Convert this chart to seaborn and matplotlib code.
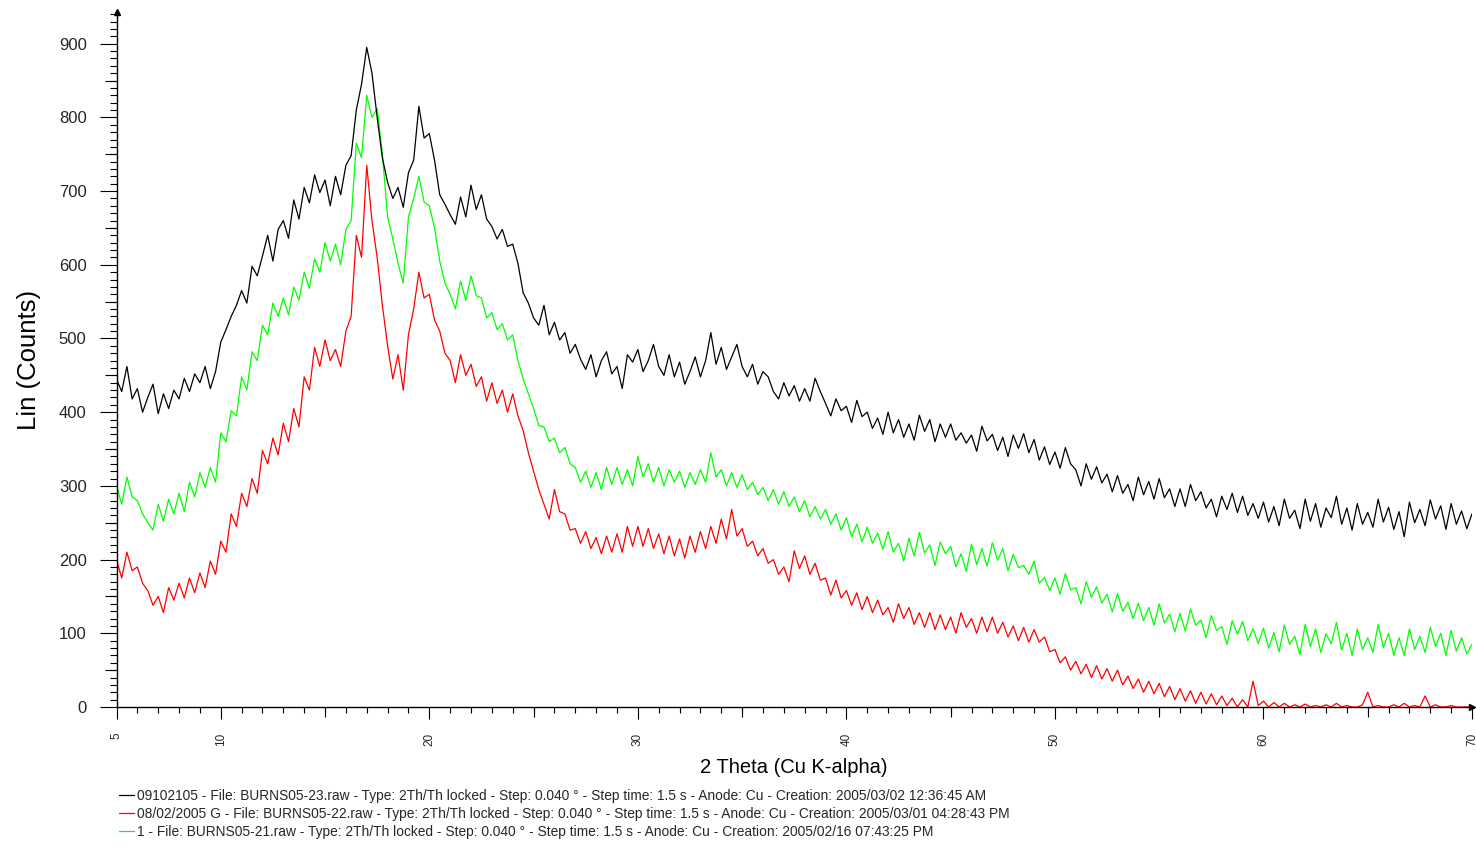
import numpy as np
import pandas as pd
import matplotlib
matplotlib.use("Agg")
import matplotlib.pyplot as plt
from matplotlib.ticker import MultipleLocator, FixedLocator
import seaborn as sns

# ---------------- data (0.25 deg sampling) ----------------
theta_start, theta_end, theta_step = 5.0, 70.0, 0.25

black_counts = [
    445, 428, 462, 418,  432, 400, 420, 438,  398, 425, 405, 430,  418, 446, 428, 452,
    440, 462, 432, 455,  495, 512, 530, 545,  565, 548, 598, 585,  612, 640, 605, 648,
    660, 636, 688, 662,  705, 684, 722, 698,  715, 680, 720, 695,  735, 748, 810, 845,
    895, 860, 800, 745,  712, 690, 705, 678,  725, 742, 815, 772,  778, 742, 695, 682,
    668, 655, 692, 665,  708, 675, 695, 662,  652, 635, 648, 625,  628, 602, 562, 548,
    528, 518, 545, 505,  522, 498, 508, 480,  492, 472, 458, 478,  448, 470, 482, 452,
    462, 432, 478, 468,  485, 455, 470, 492,  462, 450, 478, 448,  468, 438, 455, 475,
    448, 470, 508, 465,  488, 458, 475, 492,  462, 448, 465, 438,  455, 448, 428, 418,
    440, 422, 436, 415,  432, 415, 446, 428,  412, 395, 418, 402,  408, 386, 416, 394,
    400, 378, 392, 370,  400, 372, 390, 366,  384, 362, 396, 374,  390, 360, 384, 366,
    384, 362, 372, 358,  369, 347, 381, 361,  370, 348, 366, 340,  369, 351, 371, 345,
    363, 335, 353, 329,  346, 324, 352, 330,  322, 300, 330, 309,  326, 304, 316, 292,
    314, 290, 302, 280,  312, 288, 306, 282,  310, 284, 296, 272,  296, 272, 302, 280,
    292, 270, 282, 258,  286, 268, 290, 264,  286, 260, 276, 256,  278, 251, 272, 246,
    282, 256, 267, 242,  282, 252, 276, 244,  270, 257, 286, 248,  270, 240, 276, 248,
    264, 244, 282, 251,  271, 241, 265, 231,  278, 250, 268, 246,  281, 255, 273, 241,
    276, 248, 266, 242,  262,
]

red_counts = [
    200, 175, 210, 185,  190, 168, 158, 138,  150, 128, 162, 145,  168, 148, 175, 155,
    182, 162, 198, 180,  225, 210, 262, 245,  290, 272, 310, 290,  348, 330, 365, 342,
    385, 360, 405, 380,  448, 430, 488, 462,  498, 470, 485, 462,  510, 530, 640, 610,
    735, 660, 610, 545,  490, 445, 478, 430,  505, 540, 590, 555,  560, 525, 510, 480,
    470, 440, 478, 450,  465, 435, 448, 415,  440, 412, 430, 400,  425, 395, 375, 345,
    320, 295, 275, 255,  295, 265, 262, 240,  242, 222, 238, 215,  230, 208, 232, 210,
    235, 210, 245, 218,  245, 218, 242, 215,  235, 208, 232, 205,  228, 202, 232, 210,
    238, 215, 245, 222,  255, 228, 268, 232,  242, 218, 225, 205,  215, 195, 200, 180,
    190, 170, 212, 188,  205, 180, 195, 172,  175, 152, 172, 148,  158, 138, 155, 132,
    150, 128, 145, 125,  135, 115, 140, 120,  135, 112, 128, 108,  128, 105, 125, 105,
    122, 100, 128, 108,  120, 100, 122, 102,  122, 100, 115, 95,   110, 90, 108, 88,
    105, 88, 95, 75,     78, 60, 68, 50,      62, 45, 58, 40,      56, 38, 52, 35,
    50, 30, 42, 25,      38, 20, 35, 18,      32, 14, 28, 10,      25, 8, 22, 5,
    20, 4, 18, 3,        15, 2, 12, 0,        10, 0, 35, 2,        8, 0, 6, 0,
    5, 0, 3, 0,          4, 0, 2, 0,          3, 0, 5, 0,          2, 0, 0, 3,
    20, 0, 2, 0,         0, 3, 0, 5,          0, 2, 0, 15,         0, 3, 0, 0,
    2, 0, 0, 0,          0,
]

green_counts = [
    300, 275, 312, 285,  280, 262, 250, 240,  275, 252, 282, 262,  290, 265, 305, 285,
    318, 298, 325, 305,  372, 360, 402, 395,  448, 430, 482, 470,  518, 505, 548, 530,
    555, 532, 570, 552,  590, 568, 608, 590,  630, 605, 628, 600,  648, 660, 765, 745,
    830, 800, 812, 750,  665, 635, 602, 575,  665, 690, 720, 685,  680, 650, 605, 575,
    560, 540, 578, 552,  585, 558, 555, 528,  535, 512, 520, 498,  505, 470, 445, 425,
    405, 382, 380, 360,  365, 345, 352, 330,  325, 305, 320, 298,  318, 295, 325, 302,
    325, 302, 322, 300,  340, 312, 330, 305,  325, 300, 322, 305,  320, 298, 318, 302,
    322, 305, 345, 312,  322, 300, 318, 298,  315, 295, 305, 288,  298, 280, 295, 275,
    292, 272, 285, 265,  280, 258, 272, 255,  268, 248, 262, 240,  257, 231, 248, 224,
    244, 222, 236, 214,  238, 210, 222, 198,  229, 205, 237, 209,  220, 192, 224, 208,
    218, 190, 208, 184,  221, 193, 215, 191,  223, 199, 215, 185,  207, 189, 192, 180,
    198, 168, 176, 158,  175, 153, 181, 159,  162, 140, 170, 149,  163, 141, 153, 129,
    154, 130, 142, 120,  141, 117, 135, 111,  140, 114, 126, 102,  127, 103, 133, 111,
    118, 94, 124, 104,   109, 85, 117, 99,    116, 90, 106, 86,    107, 80, 101, 75,
    111, 85, 96, 71,     112, 82, 106, 74,    99, 86, 115, 77,     100, 70, 106, 78,
    94, 74, 112, 81,     100, 70, 94, 70,     106, 78, 96, 74,     108, 82, 100, 70,
    104, 76, 94, 72,     85,
]

series_names = [
    "09102105 - File: BURNS05-23.raw - Type: 2Th/Th locked - Step: 0.040 \u00b0 - Step time: 1.5 s - Anode: Cu - Creation: 2005/03/02 12:36:45 AM",
    "08/02/2005 G - File: BURNS05-22.raw - Type: 2Th/Th locked - Step: 0.040 \u00b0 - Step time: 1.5 s - Anode: Cu - Creation: 2005/03/01 04:28:43 PM",
    "1 - File: BURNS05-21.raw - Type: 2Th/Th locked - Step: 0.040 \u00b0 - Step time: 1.5 s - Anode: Cu - Creation: 2005/02/16 07:43:25 PM",
]
series_colors = ["#000000", "#ff0000", "#00ff00"]

x_major_ticks = [5, 10, 20, 30, 40, 50, 60, 70]
y_major_ticks = [0, 100, 200, 300, 400, 500, 600, 700, 800, 900]

# ---------------- build table ----------------
theta = np.round(np.arange(theta_start, theta_end + theta_step / 2, theta_step), 2)
frames = []
for name, vals in zip(series_names, [black_counts, red_counts, green_counts]):
    frames.append(pd.DataFrame({"theta": theta, "counts": vals, "series": name}))
df = pd.concat(frames, ignore_index=True)

# ---------------- figure ----------------
sns.set_style("white")
plt.rcParams["font.family"] = ["Liberation Sans", "DejaVu Sans"]

fig = plt.figure(figsize=(14.76, 8.47), dpi=100)
W, H = 1476, 847
x0, x1, y0, y1 = 116.5, 1472, 707, 12
ax = fig.add_axes([x0 / W, (H - y0) / H, (x1 - x0) / W, (y0 - y1) / H])

draw_order = [2, 1, 0]  # green, red, black on top
handles = {}
for i in draw_order:
    sub = df[df["series"] == series_names[i]]
    sns.lineplot(data=sub, x="theta", y="counts", color=series_colors[i],
                 lw=0.9, estimator=None, sort=False, legend=False, ax=ax)
    handles[i] = ax.get_lines()[-1]

ax.set_xlim(5, 70)
ax.set_ylim(0, 943)

for s in ["top", "right"]:
    ax.spines[s].set_visible(False)
for s in ["left", "bottom"]:
    ax.spines[s].set_color("black")
    ax.spines[s].set_linewidth(1.0)

ax.xaxis.set_major_locator(FixedLocator(x_major_ticks))
ax.xaxis.set_minor_locator(MultipleLocator(1))
ax.yaxis.set_major_locator(FixedLocator(y_major_ticks))
ax.yaxis.set_minor_locator(MultipleLocator(10))
ax.tick_params(axis="x", which="major", direction="out", length=8.6, width=0.8,
               color="black", labelsize=8.5, pad=10, labelrotation=90, bottom=True)
ax.tick_params(axis="x", which="minor", direction="out", length=4.3, width=0.8,
               color="black", bottom=True)
ax.tick_params(axis="y", which="major", direction="out", length=12.5, width=0.8,
               color="black", labelsize=12, pad=9, left=True)
ax.tick_params(axis="y", which="minor", direction="out", length=5, width=0.8,
               color="black", left=True)
for lab in ax.get_xticklabels():
    lab.set_va("top")

# medium ticks (x at 15,25,..., y at 50,150,...)
axm = ax.twiny()
axm.set_xlim(ax.get_xlim())
axm.xaxis.tick_bottom()
axm.set_xticks([15, 25, 35, 45, 55, 65])
axm.tick_params(axis="x", length=7.2, width=0.8, color="black", labelbottom=False, labeltop=False)
for s in axm.spines.values():
    s.set_visible(False)
aym = ax.twinx()
aym.set_ylim(ax.get_ylim())
aym.yaxis.tick_left()
aym.set_yticks([50, 150, 250, 350, 450, 550, 650, 750, 850])
aym.tick_params(axis="y", length=9, width=0.8, color="black", labelleft=False, labelright=False)
for s in aym.spines.values():
    s.set_visible(False)

# axis arrow heads
ax.plot([0], [1], marker="^", ms=4, color="black", transform=ax.transAxes, clip_on=False)
ax.plot([1], [0], marker=">", ms=4, color="black", transform=ax.transAxes, clip_on=False)

ax.set_xlabel("2 Theta (Cu K-alpha)", fontsize=14.5, color="black")
ax.xaxis.set_label_coords(0.5, -0.073)
ax.set_ylabel("Lin (Counts)", fontsize=18.5, color="black")
ax.yaxis.set_label_coords(-0.056, 0.5)

leg = fig.legend([handles[0], handles[1], handles[2]], series_names,
                 loc="upper left", bbox_to_anchor=(119 / W, 1 - 789 / H),
                 frameon=False, fontsize=9.9, handlelength=1.1, handletextpad=0.2,
                 labelspacing=0.28, borderpad=0.0, borderaxespad=0.0)

fig.savefig("out.png", dpi=100)
